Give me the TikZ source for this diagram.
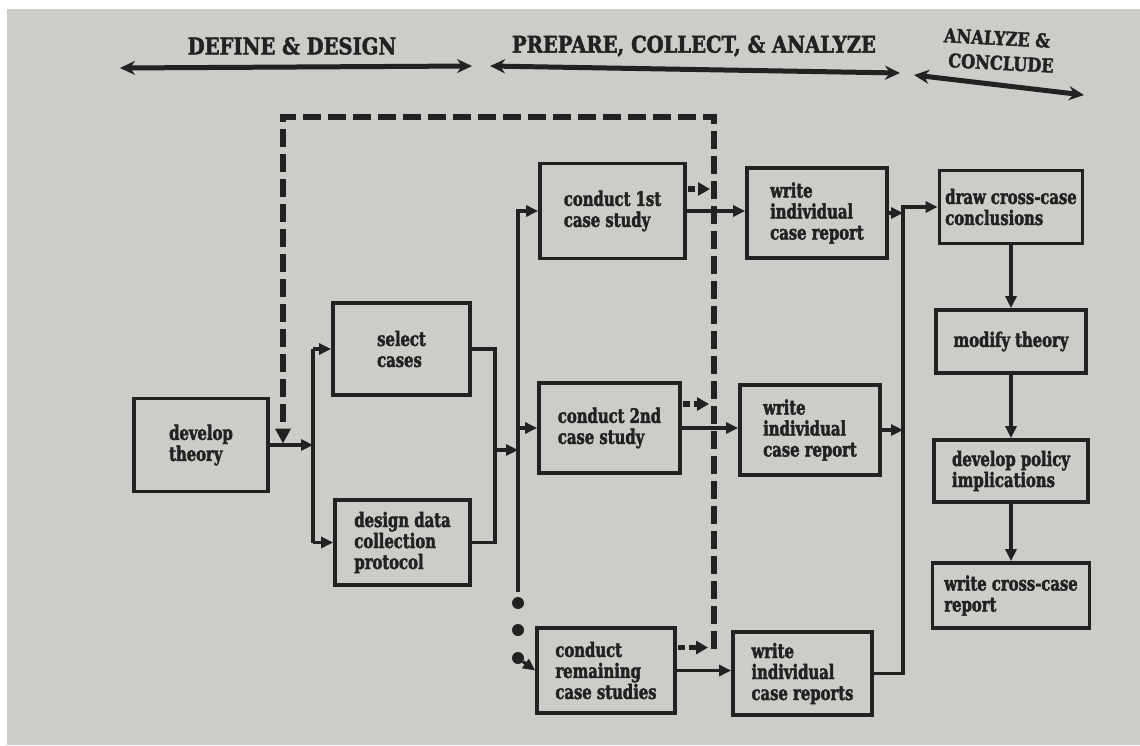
\documentclass[tikz,border=0pt]{standalone}
\usepackage{fontspec}
\setmainfont{DejaVu Serif}
\newfontfamily\boxfont[FakeStretch=0.74,BoldFeatures={FakeBold=2}]{DejaVu Serif}
\newfontfamily\hdrfont[FakeStretch=0.85,BoldFeatures={FakeBold=2}]{DejaVu Serif}
\usetikzlibrary{arrows.meta,calc}
\definecolor{paper}{RGB}{204,204,200}
\definecolor{ink}{RGB}{34,34,34}
\begin{document}
\begin{tikzpicture}[x=1pt,y=-1pt,
  box/.style={draw=ink, line width=3.8pt, align=left, inner sep=2pt,
    font=\boxfont\bfseries\fontsize{20}{21}\selectfont, text=ink},
  hdr/.style={font=\hdrfont\bfseries\fontsize{23}{24}\selectfont, text=ink},
  hdrs/.style={font=\hdrfont\bfseries\fontsize{19}{20}\selectfont, text=ink, inner sep=1pt, rotate=-3},
  conn/.style={draw=ink, line width=3.2pt},
  arr/.style={conn, -{Triangle[length=12pt,width=11pt]}},
  harr/.style={draw=ink, line width=5pt, {Stealth[length=15pt,width=14pt]}-{Stealth[length=15pt,width=14pt]}},
  fb/.style={draw=ink, line width=6.5pt, dash pattern=on 18pt off 7pt, -{Triangle[length=15pt,width=15pt]}},
  stub/.style={draw=ink, line width=5.5pt, dash pattern=on 7pt off 4pt, -{Triangle[length=12pt,width=13pt]}},
  dot/.style={circle, fill=ink, inner sep=0pt, minimum size=12pt}
]
\useasboundingbox (0,0) rectangle (1140,745);
\fill[paper] (0,0) rectangle (1140,745);
\fill[white] (0,0) rectangle (1140,9);
\fill[white] (0,0) rectangle (7,745);

% headers
\node[hdr] (h1) at (292,46) {DEFINE \& DESIGN};
\node[hdr] (h2) at (694,46) {PREPARE, COLLECT, \& ANALYZE};
\node[hdrs] (h3a) at (997,38) {ANALYZE \&};
\node[hdrs] (h3b) at (1001,63) {CONCLUDE};
\coordinate (a1l) at (120,68); \coordinate (a1r) at (472,66);
\coordinate (a2l) at (490,66); \coordinate (a2r) at (900,73);
\coordinate (a3l) at (914,75); \coordinate (a3r) at (1084,95);
\draw[harr] (a1l) -- (a1r);
\draw[harr] (a2l) -- (a2r);
\draw[harr] (a3l) -- (a3r);

% boxes
\node[box, minimum width=134pt, minimum height=93pt] (theory) at (201,445) {develop\\theory};
\node[box, minimum width=137pt, minimum height=92pt] (select) at (401.5,349) {select\\cases};
\node[box, minimum width=135pt, minimum height=85pt] (design) at (402.5,542.5) {design data\\collection\\protocol};
\node[box, minimum width=145pt, minimum height=95pt] (c1) at (612.5,211) {conduct 1st\\case study};
\node[box, minimum width=140pt, minimum height=90pt] (w1) at (817,213) {write\\individual\\case report};
\node[box, minimum width=141pt, minimum height=90pt] (c2) at (609.5,428) {conduct 2nd\\case study};
\node[box, minimum width=140pt, minimum height=90pt] (w2) at (810,430) {write\\individual\\case report};
\node[box, minimum width=138pt, minimum height=85pt] (c3) at (606,670.5) {conduct\\remaining\\case studies};
\node[box, minimum width=139pt, minimum height=83pt] (w3) at (802.5,673.5) {write\\individual\\case reports};
\node[box, minimum width=143pt, minimum height=73pt] (dc) at (1011,207) {draw cross-case\\conclusions};
\node[box, minimum width=150pt, minimum height=63pt] (mt) at (1011,341.5) {modify theory};
\node[box, minimum width=154pt, minimum height=62pt] (dp) at (1011,471) {develop policy\\implications};
\node[box, minimum width=157pt, minimum height=65pt] (wc) at (1011,595.5) {write cross-case\\report};

% dots
\node[dot] (d1) at (518,603) {};
\node[dot] (d2) at (518,630) {};
\node[dot] (d3) at (518,658) {};

% helper coordinates
\coordinate (s1) at (313,445);
\coordinate (j2) at (495,450);
\coordinate (b1) at (518,592);
\coordinate (b2) at (903,673);
\coordinate (fbb) at (714,649);
\coordinate (fbt) at (714,117);
\coordinate (fbl) at (283,117);

% define & design connectors
\draw[arr] (theory.east) -- (s1);
\draw[conn] (s1 |- select.west) -- (s1 |- design.west);
\draw[arr] (s1 |- select.west) -- (select.west);
\draw[arr] (s1 |- design.west) -- (design.west);
\draw[conn] (select.east) -| (j2) |- (design.east);
\draw[arr] (j2) -- (j2 -| b1);

% case study bus
\draw[arr] (b1) -- (b1 |- c1.west) -- (c1.west);
\draw[arr] (b1 |- c2.west) -- (c2.west);
\draw[arr] (d3) -- (c3.west);

% to reports
\draw[arr] (c1.east) -- (c1.east -| w1.west);
\draw[arr] (c2.east) -- (c2.east -| w2.west);
\draw[arr] (c3.east) -- (c3.east -| w3.west);

% dashed feedback
\draw[fb] (fbb) -- (fbt) -- (fbl) -- ($(fbl |- theory.east)+(0,-1.5)$);
\draw[stub] ($(c1.east)+(1,-22)$) -- ($(c1.east -| fbb)+(-4,-22)$);
\draw[stub] ($(c2.east)+(1,-24)$) -- ($(c2.east -| fbb)+(-5,-24)$);
\draw[stub] ($(c3.east)+(1,-23)$) -- ($(c3.east -| fbb)+(-6,-23)$);

% to cross-case
\draw[arr] (w1.east) -- (w1.east -| b2);
\draw[arr] (w2.east) -- (w2.east -| b2);
\draw[arr] (w3.east) -| (b2 |- dc.west) -- (dc.west);

% right column
\draw[arr] (dc.south) -- (mt.north);
\draw[arr] (mt.south) -- (dp.north);
\draw[arr] (dp.south) -- (wc.north);
\end{tikzpicture}
\end{document}
